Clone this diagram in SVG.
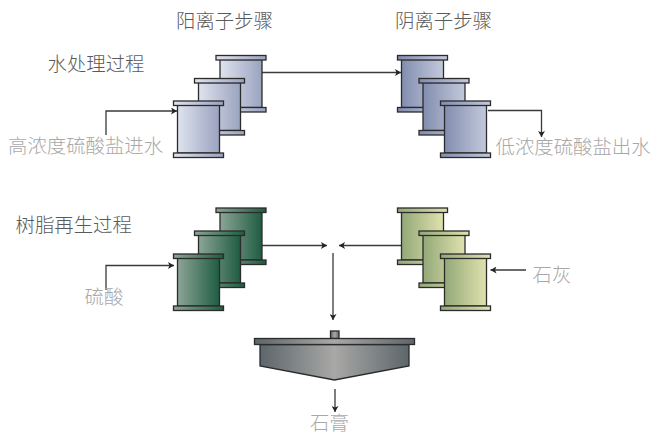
<svg xmlns="http://www.w3.org/2000/svg" xmlns:xlink="http://www.w3.org/1999/xlink" width="652" height="435" viewBox="0 0 652 435">
<style>
text{font-family:"Noto Sans CJK SC","Noto Sans",sans-serif;font-size:19.400px;font-weight:300}
.t{fill:#5a5a5a}
.l{fill:#a8a8a8}
.c{fill:none;stroke:#3a3a3a;stroke-width:1.300}
.k{stroke:#2b2b2b;stroke-width:1.300}
</style>
<defs>
<linearGradient id="a"><stop offset="0" stop-color="#dfe3ee"/><stop offset="1" stop-color="#9aa3bf"/></linearGradient>
<linearGradient id="b"><stop offset="0" stop-color="#828daf"/><stop offset="1" stop-color="#c3c9dc"/></linearGradient>
<linearGradient id="g"><stop offset="0" stop-color="#8ca596"/><stop offset="1" stop-color="#1f5c42"/></linearGradient>
<linearGradient id="y"><stop offset="0" stop-color="#93a878"/><stop offset="1" stop-color="#e0e2ae"/></linearGradient>
<linearGradient id="s"><stop offset="0" stop-color="#5d666b"/><stop offset=".5" stop-color="#a8a8a6"/><stop offset="1" stop-color="#5d666b"/></linearGradient>
<marker id="m" markerWidth="7" markerHeight="7" refX="6" refY="3.500" orient="auto" markerUnits="userSpaceOnUse"><path d="M0 0L6 3.500L0 7L1.500 3.500Z" fill="#222"/></marker>
<g id="tank" class="k">
<rect x="4.500" y="4.500" width="42" height="48"/>
<rect x="0.500" y="0.500" width="50" height="4.500"/>
<rect x="0.500" y="52.500" width="50" height="4.500"/>
</g>
</defs>
<g id="connectors">
<path class="c" d="M262 72.500H401" marker-end="url(#m)"/>
<path class="c" d="M106 135V111H177" marker-end="url(#m)"/>
<path class="c" d="M488 110.500H541.500V137" marker-end="url(#m)"/>
<path class="c" d="M262 245.500H327" marker-end="url(#m)"/>
<path class="c" d="M401 245.500H339" marker-end="url(#m)"/>
<path class="c" d="M333 253V320" marker-end="url(#m)"/>
<path class="c" d="M106 290V265.500H174" marker-end="url(#m)"/>
<path class="c" d="M526 270H490.500" marker-end="url(#m)"/>
<path class="c" d="M335 389V412" marker-end="url(#m)"/>
</g>
<g id="cation"><use xlink:href="#tank" href="#tank" x="215.500" y="55" fill="url(#a)"/><use xlink:href="#tank" href="#tank" x="194" y="78" fill="url(#a)"/><use xlink:href="#tank" href="#tank" x="173" y="100.500" fill="url(#a)"/></g>
<g id="anion"><use xlink:href="#tank" href="#tank" x="397" y="55" fill="url(#b)"/><use xlink:href="#tank" href="#tank" x="418.500" y="78" fill="url(#b)"/><use xlink:href="#tank" href="#tank" x="440" y="100.500" fill="url(#b)"/></g>
<g id="resin-cation"><use xlink:href="#tank" href="#tank" x="215.500" y="207.500" fill="url(#g)"/><use xlink:href="#tank" href="#tank" x="194" y="230.500" fill="url(#g)"/><use xlink:href="#tank" href="#tank" x="173" y="253.500" fill="url(#g)"/></g>
<g id="resin-anion"><use xlink:href="#tank" href="#tank" x="397" y="207.500" fill="url(#y)"/><use xlink:href="#tank" href="#tank" x="418.500" y="230.500" fill="url(#y)"/><use xlink:href="#tank" href="#tank" x="440" y="253.500" fill="url(#y)"/></g>
<g id="settler" class="k">
<rect x="330.500" y="331" width="8.500" height="7.500" fill="url(#s)"/>
<path d="M260 344.500H409V366L334.500 380L260 366Z" fill="url(#s)"/>
<rect x="254.500" y="338.500" width="160" height="6" fill="url(#s)"/>
</g>
<g id="labels">
<text class="t" x="176" y="28">阳离子步骤</text>
<text class="t" x="395" y="28">阴离子步骤</text>
<text class="t" x="47.500" y="71">水处理过程</text>
<text class="l" x="8" y="153">高浓度硫酸盐进水</text>
<text class="l" x="495.500" y="154">低浓度硫酸盐出水</text>
<text class="t" x="15.500" y="232">树脂再生过程</text>
<text class="l" x="84.500" y="304">硫酸</text>
<text class="l" x="532.500" y="282">石灰</text>
<text class="l" x="310" y="430">石膏</text>
</g>
</svg>
